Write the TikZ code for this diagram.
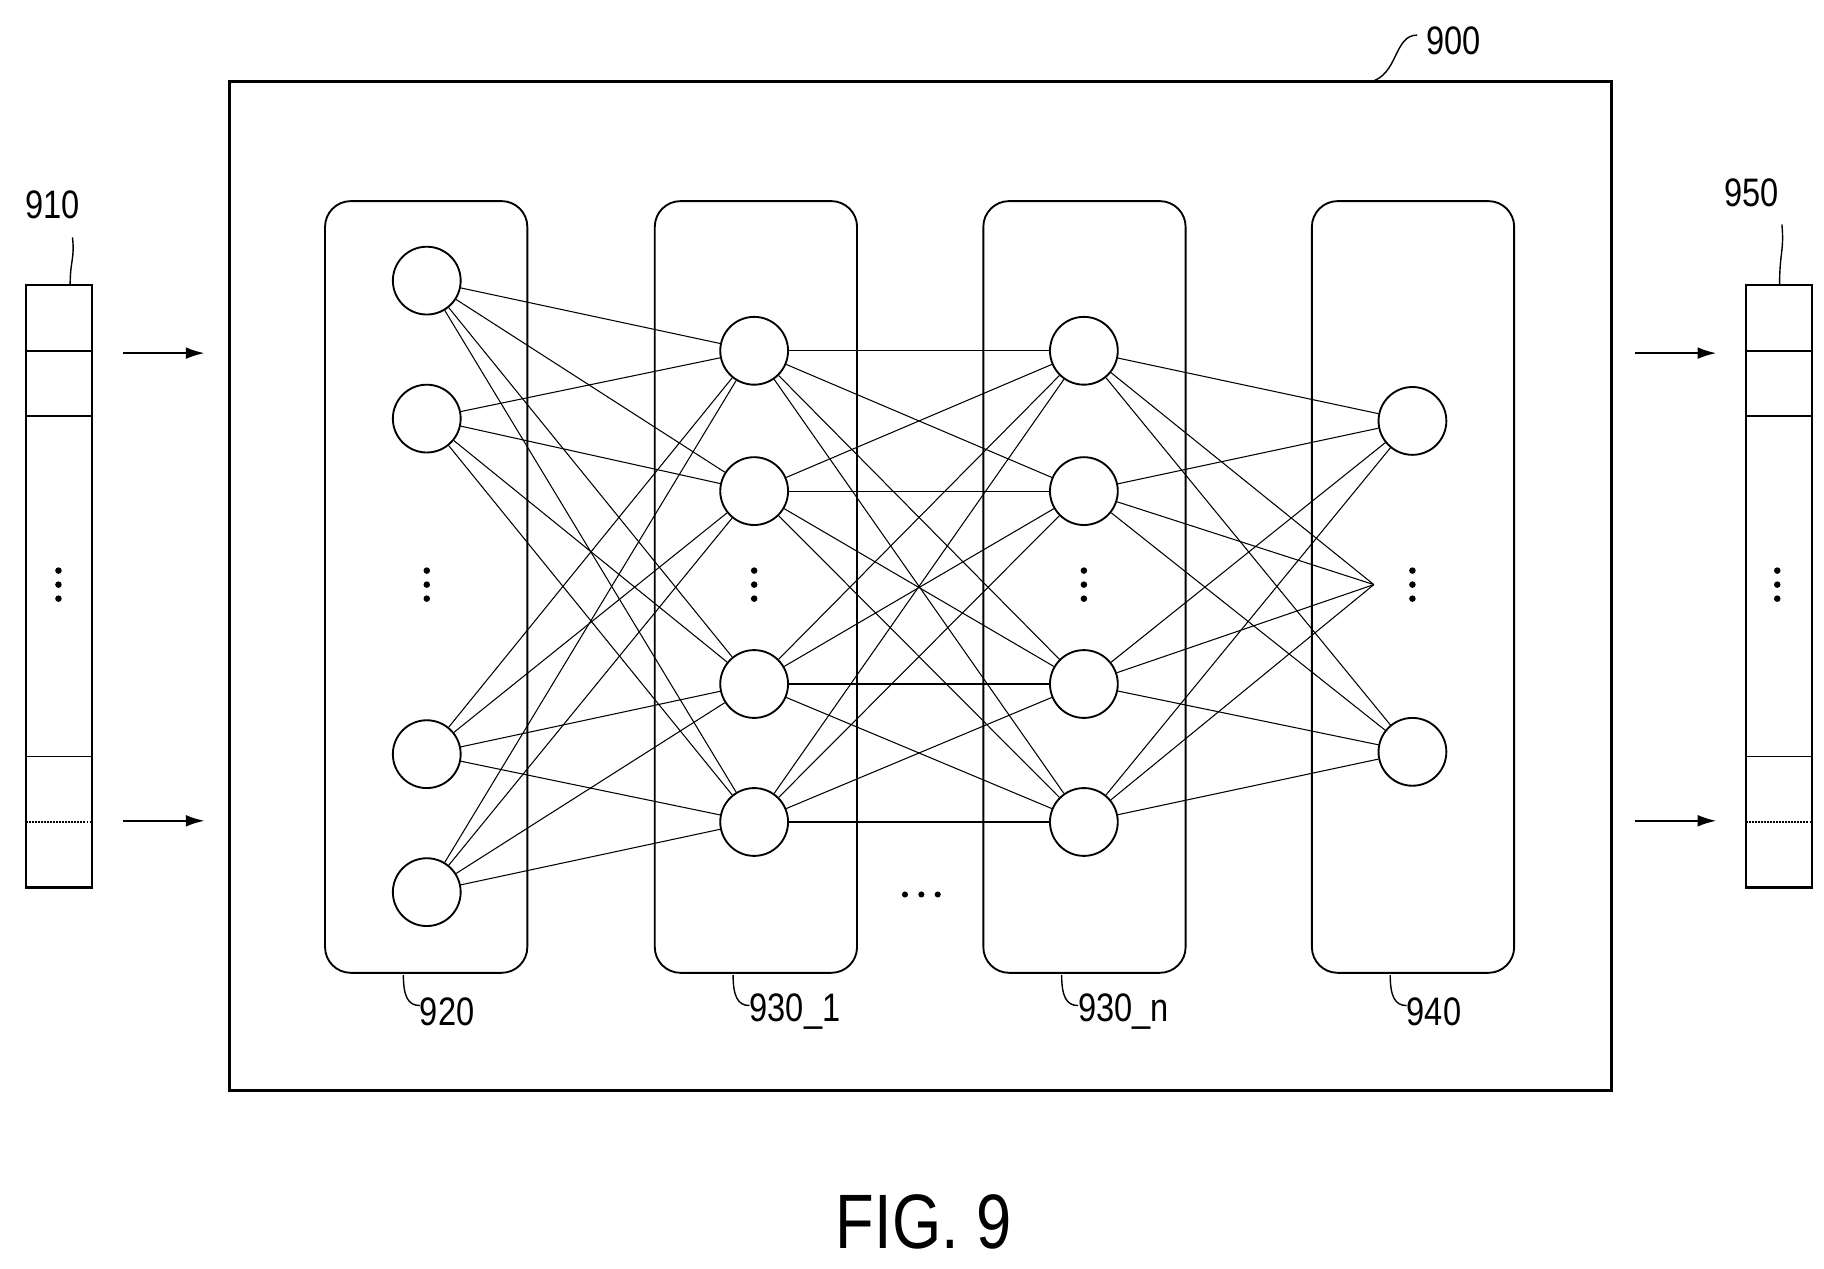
\documentclass[tikz,border=0pt]{standalone}
\usepackage{fontspec}
\setmainfont[FakeStretch=0.82]{Liberation Sans}
\usetikzlibrary{arrows.meta}
\begin{document}
\begin{tikzpicture}[x=1pt, y=-1pt,
    neuron/.style={circle, draw, line width=1.6pt, minimum size=58pt, inner sep=0pt},
    layer/.style={draw, rounded corners=22pt, line width=1.6pt},
    lbl/.style={font=\fontsize{34}{36}\selectfont, inner sep=0pt},
    wire/.style={line width=0.9pt},
    feed/.style={line width=1.8pt, -{Latex[length=16pt, width=10pt]}}]
    \useasboundingbox (0,0) rectangle (1560,1085);

    % Outer block and layers
    \draw[line width=2.6pt] (196,70) rectangle (1378,933);
    \foreach \x/\name in {278/920, 560/9301, 841/930n, 1122/940}
        \draw[layer] (\x,172) rectangle ++(173,660);

    % Neurons
    \foreach \y [count=\i] in {240,358,645,763}
        \node[neuron] (a\i) at (365,\y) {};
    \foreach \y [count=\i] in {300,420,585,703}{
        \node[neuron] (b\i) at (645,\y) {};
        \node[neuron] (c\i) at (927,\y) {};
    }
    \node[neuron] (d1) at (1208,360) {};
    \node[neuron] (d3) at (1208,643) {};
    \coordinate (d2) at (1175,500);

    % Connections
    \foreach \i in {1,...,4}
        \foreach \j in {1,...,4}{
            \draw[wire] (a\i) -- (b\j);
            \draw[wire] (b\i) -- (c\j);
        }
    \foreach \i in {1,...,4}
        \foreach \j in {1,2,3}
            \draw[wire] (c\i) -- (d\j);

    % Vertical dots
    \foreach \x in {50,365,645,927,1208,1520}
        \foreach \dy in {-12,0,12}
            \fill (\x,500+\dy) circle (2.8pt);
    \foreach \dx in {-14,0,14}
        \fill (788+\dx,765) circle (2.6pt);

    % Input and output vectors
    \foreach \x/\name in {22/in, 1493/out}{
        \draw[line width=1.8pt] (\x,244) rectangle ++(57,515);
        \foreach \y in {300,356,647}
            \draw[line width=1.6pt] (\x,\y) -- ++(57,0);
        \draw[line width=1.6pt, densely dotted] (\x,703) -- ++(57,0);
    }
    \coordinate (in1) at (105,302);  \coordinate (in2) at (175,302);
    \coordinate (in3) at (105,702);  \coordinate (in4) at (175,702);
    \coordinate (out1) at (1398,302); \coordinate (out2) at (1468,302);
    \coordinate (out3) at (1398,702); \coordinate (out4) at (1468,702);
    \draw[feed] (in1) -- (in2);
    \draw[feed] (in3) -- (in4);
    \draw[feed] (out1) -- (out2);
    \draw[feed] (out3) -- (out4);

    % Reference labels
    \node[lbl] (l900) at (1243,35) {900};
    \draw[line width=1.2pt] (1212,30) .. controls (1192,30) and (1196,64) .. (1172,70);
    \node[lbl] (l910) at (45,175) {910};
    \draw[line width=1.2pt] (60,244) .. controls (60,222) and (64,222) .. (62,203);
    \node[lbl] (l950) at (1498,165) {950};
    \draw[line width=1.2pt] (1522,244) .. controls (1522,215) and (1526,215) .. (1524,192);
    \foreach \x/\txt in {345/920, 627/930\_1, 908/930\_n, 1189/940}{
        \node[lbl, anchor=west] at (\x+14,865) {\txt};
        \draw[line width=1.2pt] (\x,834) .. controls (\x,852) and (\x+4,860) .. (\x+14,860);
    }

    % Caption
    \node[font=\fontsize{66}{68}\selectfont] (cap) at (790,1045) {FIG. 9};
\end{tikzpicture}
\end{document}
